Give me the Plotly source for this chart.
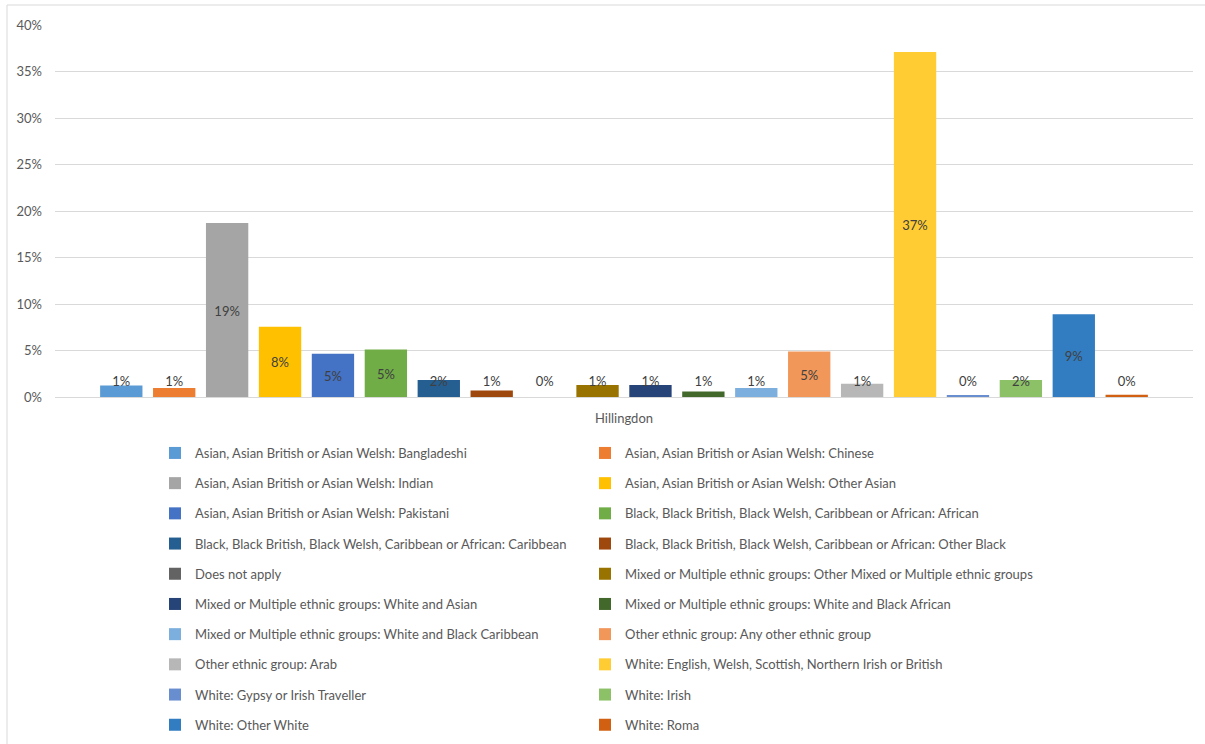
import plotly.graph_objects as go

# Share of residents by ethnic group, Hillingdon
area = ["Hillingdon"]

groups = [
    "Asian, Asian British or Asian Welsh: Bangladeshi",
    "Asian, Asian British or Asian Welsh: Chinese",
    "Asian, Asian British or Asian Welsh: Indian",
    "Asian, Asian British or Asian Welsh: Other Asian",
    "Asian, Asian British or Asian Welsh: Pakistani",
    "Black, Black British, Black Welsh, Caribbean or African: African",
    "Black, Black British, Black Welsh, Caribbean or African: Caribbean",
    "Black, Black British, Black Welsh, Caribbean or African: Other Black",
    "Does not apply",
    "Mixed or Multiple ethnic groups: Other Mixed or Multiple ethnic groups",
    "Mixed or Multiple ethnic groups: White and Asian",
    "Mixed or Multiple ethnic groups: White and Black African",
    "Mixed or Multiple ethnic groups: White and Black Caribbean",
    "Other ethnic group: Any other ethnic group",
    "Other ethnic group: Arab",
    "White: English, Welsh, Scottish, Northern Irish or British",
    "White: Gypsy or Irish Traveller",
    "White: Irish",
    "White: Other White",
    "White: Roma",
]

# percentage of residents
shares = [1.25, 0.97, 18.7, 7.55, 4.66, 5.1, 1.83, 0.7, 0.0, 1.3,
          1.3, 0.6, 0.97, 4.9, 1.43, 37.1, 0.14, 1.83, 8.9, 0.25]

colors = ["#5B9BD5", "#ED7D31", "#A5A5A5", "#FFC000", "#4472C4", "#70AD47",
          "#255E91", "#9E480E", "#636363", "#997300", "#264478", "#43682B",
          "#7CAFDD", "#F1975A", "#B7B7B7", "#FFCD33", "#698ED0", "#8CC168",
          "#327DC2", "#D26012"]

FONT = "Lato"
GREY_TEXT = "#595959"
GRID = "#D9D9D9"

fig = go.Figure()

for i, (name, val, col) in enumerate(zip(groups, shares, colors)):
    fig.add_trace(go.Bar(
        x=area, y=[val], name=name,
        marker=dict(color=col, line=dict(width=0)),
        legend="legend" if i % 2 == 0 else "legend2",
        legendgroup=f"g{i}",
        hoverinfo="name+y",
    ))

# value labels: centred in the bar, lifted clear of the axis for short bars
for i, val in enumerate(shares):
    fig.add_trace(go.Scatter(
        x=area, y=[max(val / 2, 1.75) - 0.25],
        mode="text", text=[f"{round(val)}%"],
        textfont=dict(family=FONT, size=13, color="#404040"),
        showlegend=False, hoverinfo="skip", cliponaxis=False,
    ))

# plot area in pixels: x 55..1193, y 25..397
L, R, T, B = 55, 1193, 25, 397
W, H = 1205, 744


def px_x(p):
    return (p - L) / (R - L)


def px_y(p):
    return (B - p) / (B - T)


legend_common = dict(
    xanchor="left", y=px_y(438), yanchor="top",
    orientation="v", traceorder="grouped", tracegroupgap=10.3,
    bgcolor="rgba(0,0,0,0)",
    font=dict(family=FONT, size=13, color=GREY_TEXT),
)

fig.update_layout(
    width=W, height=H,
    margin=dict(l=L, r=W - R, t=T, b=H - B, autoexpand=False),
    paper_bgcolor="white", plot_bgcolor="white",
    barmode="group", bargap=0.07, bargroupgap=0.2,
    scattermode="group", scattergap=0.07,
    font=dict(family=FONT, size=13, color=GREY_TEXT),
    xaxis=dict(showgrid=False, showline=False, ticks="", zeroline=False,
               tickfont=dict(size=13, color=GREY_TEXT), ticklabelstandoff=12),
    yaxis=dict(range=[0, 40], dtick=5, ticksuffix="%", showgrid=True,
               gridcolor=GRID, gridwidth=1, zeroline=True, zerolinecolor=GRID,
               zerolinewidth=1, showline=False, ticks="",
               tickfont=dict(size=13, color=GREY_TEXT), ticklabelstandoff=12),
    legend=dict(x=px_x(155), **legend_common),
    legend2=dict(x=px_x(585), **legend_common),
    shapes=[dict(type="rect", xref="paper", yref="paper",
                 x0=px_x(7), x1=px_x(1215), y0=px_y(760), y1=px_y(5),
                 line=dict(color=GRID, width=1), fillcolor="rgba(0,0,0,0)",
                 layer="below")],
    showlegend=True,
)

fig.write_html("out.html")
